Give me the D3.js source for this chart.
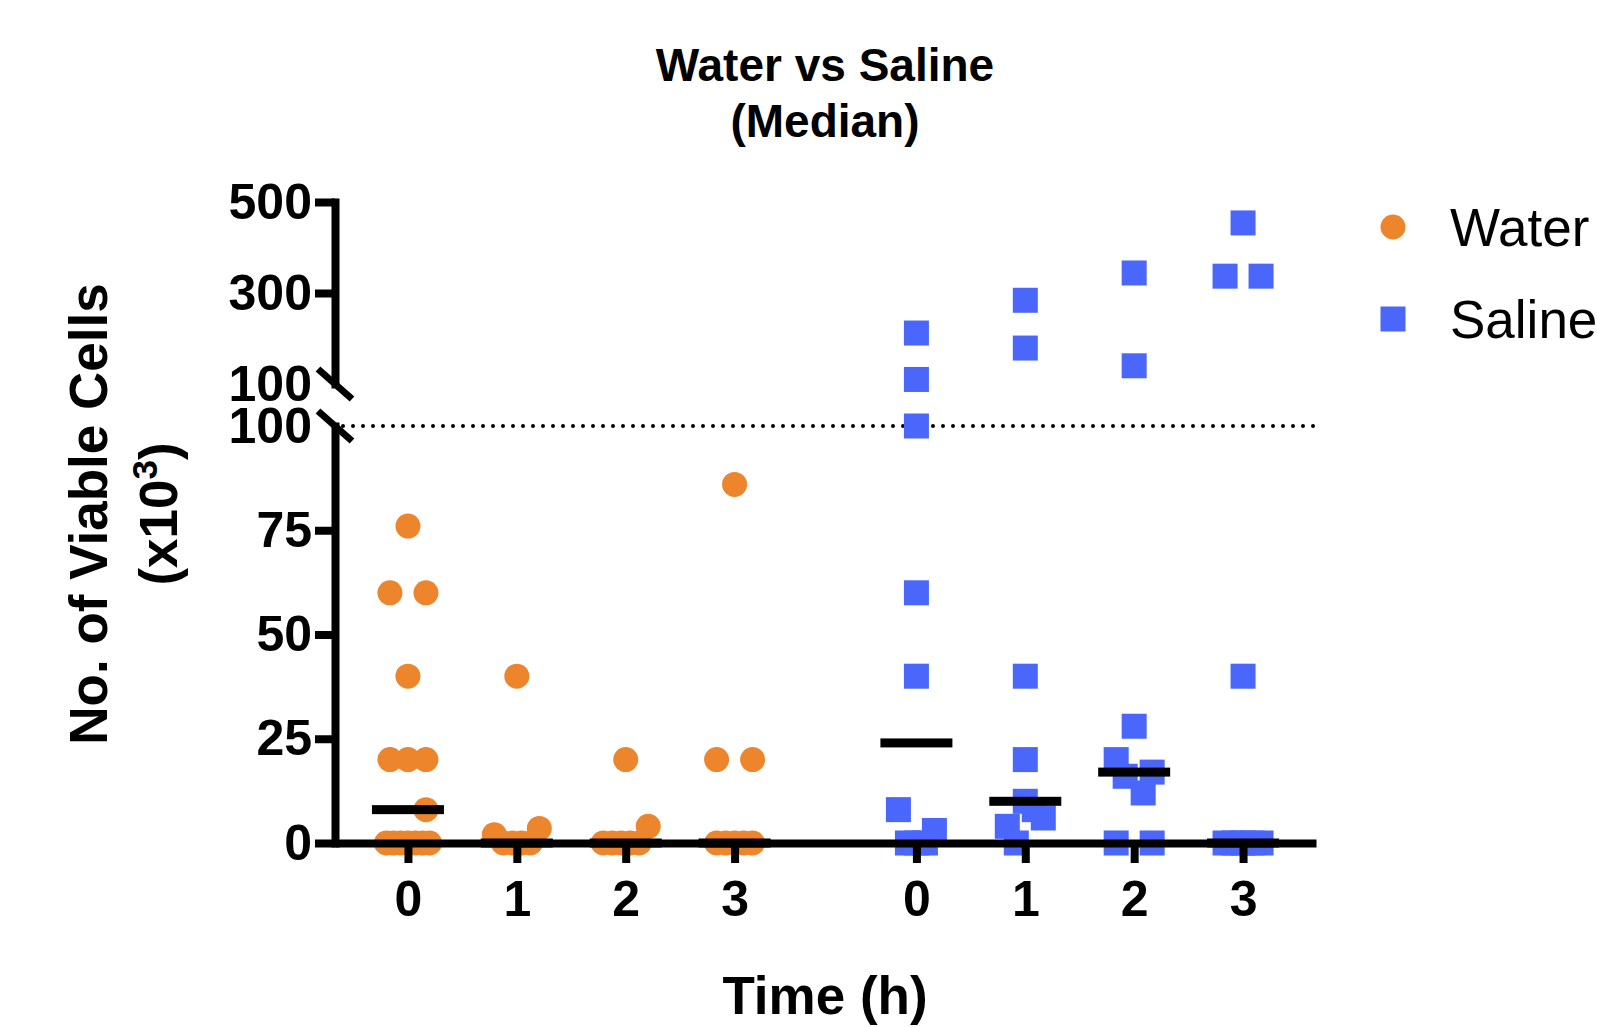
<!DOCTYPE html>
<html>
<head>
<meta charset="utf-8">
<script src="https://cdn.jsdelivr.net/npm/d3@7"></script>
<style>
  body { margin: 0; background: #fff; }
  text { font-family: "Liberation Sans", Arial, Helvetica, sans-serif; }
</style>
</head>
<body>
<div id="chart"></div>
<script>
// DATA (No. of viable cells, x10^3)
var timeLabels = ["0", "1", "2", "3"];
var groupNames = ["Water", "Saline"];

var waterValues = [
  [76, 60, 60, 40, 20, 20, 20, 8, 0, 0, 0, 0, 0, 0, 0],
  [40, 2, 3.5, 0, 0, 0, 0],
  [20, 4, 0, 0, 0, 0, 0],
  [86, 20, 20, 0, 0, 0, 0, 0]
];
// scatter slot of each point, same order as the values
var waterSlots = [
  [0, -2, 2, 0, -2, 0, 2, 2, -2.4, -1.6, -0.8, 0, 0.8, 1.6, 2.4],
  [0, -2.5, 2.5, -1.5, -0.5, 0.5, 1.5],
  [0, 2.5, -2.5, -1.5, -0.5, 0.5, 1.5],
  [0, -2, 2, -2, -1, 0, 1, 2]
];

var salineValues = [
  [212, 110, 100, 60, 40, 8, 3, 0, 0, 0],
  [284, 179, 40, 20, 10, 8, 6, 4, 0],
  [344, 140, 28, 20, 17, 16, 12, 0, 0],
  [454, 337, 337, 40, 0, 0, 0, 0, 0]
];
var salineSlots = [
  [0, 0, 0, 0, 0, -2, 2, -1, 0, 1],
  [0, 0, 0, 0, 0, 1, 2, -2, -1],
  [0, 0, 0, -2, 2, -1, 1, -2, 2],
  [0, -2, 2, 0, -2, -1, 0, 1, 2]
];

var lowTicks = [0, 25, 50, 75, 100];
var highTicks = [100, 300, 500];

var colors = { Water: "#EC852B", Saline: "#4A66FB" };

// LAYOUT
var width = 1597, height = 1027;
var plot = { left: 335, right: 1316, top: 202, breakHigh: 384, breakLow: 426, bottom: 843 };
var groupGap = 0.67;   // extra space between the two groups (in categories)
var slotPx = 9;
var markSize = 25;
var axisW = 8;

var svg = d3.select("#chart").append("svg")
  .attr("width", width)
  .attr("height", height);

//SCALES
var nCat = timeLabels.length;
var x = d3.scaleLinear()
  .domain([-0.67, 2 * nCat - 1 + groupGap + 0.67])
  .range([plot.left, plot.right]);
function catPos(g, i) { return i + g * (nCat + groupGap); }

var yLow = d3.scaleLinear().domain([0, 100]).range([plot.bottom, plot.breakLow]);
var yHigh = d3.scaleLinear().domain([100, 500]).range([plot.breakHigh, plot.top]);
function y(v) { return v <= 100 ? yLow(v) : yHigh(v); }

var points = [];
var medians = [];
[waterValues, salineValues].forEach(function(vals, g) {
  var slots = g == 0 ? waterSlots : salineSlots;
  vals.forEach(function(col, i) {
    col.forEach(function(v, j) {
      points.push({ g: g, i: i, v: v, s: slots[i][j] });
    });
    medians.push({ g: g, i: i, v: d3.median(col) });
  });
});

// dotted line at the break
svg.append("line")
  .attr("x1", plot.left + 8)
  .attr("x2", plot.right)
  .attr("y1", yLow(100))
  .attr("y2", yLow(100))
  .attr("stroke", "#000")
  .attr("stroke-width", 4)
  .attr("stroke-linecap", "round")
  .attr("stroke-dasharray", "0 10");

// POINTS
svg.selectAll(".water")
  .data(points.filter(function(d) { return d.g == 0; }))
  .enter().append("circle")
  .attr("class", "water")
  .attr("cx", function(d) { return x(catPos(d.g, d.i)) + d.s * slotPx; })
  .attr("cy", function(d) { return y(d.v); })
  .attr("r", markSize / 2)
  .attr("fill", colors.Water);

svg.selectAll(".saline")
  .data(points.filter(function(d) { return d.g == 1; }))
  .enter().append("rect")
  .attr("class", "saline")
  .attr("x", function(d) { return x(catPos(d.g, d.i)) + d.s * slotPx - markSize / 2; })
  .attr("y", function(d) { return y(d.v) - markSize / 2; })
  .attr("width", markSize)
  .attr("height", markSize)
  .attr("fill", colors.Saline);

// median bars
svg.selectAll(".median")
  .data(medians)
  .enter().append("rect")
  .attr("class", "median")
  .attr("x", function(d) { return x(catPos(d.g, d.i)) - 36; })
  .attr("y", function(d) { return y(d.v) - 4.5; })
  .attr("width", 72)
  .attr("height", 9)
  .attr("fill", "#000");

//AXES
function styleAxis(g, fontSize) {
  g.select(".domain").attr("stroke-width", axisW).attr("stroke-linecap", "square");
  g.selectAll(".tick line").attr("stroke-width", axisW);
  g.selectAll(".tick text")
    .attr("fill", "#000")
    .style("font-size", fontSize + "px")
    .style("font-weight", "bold")
    .style("font-family", "'Liberation Sans', Arial, sans-serif");
}

var gyLow = svg.append("g")
  .attr("transform", "translate(" + plot.left + ",0)")
  .call(d3.axisLeft(yLow).tickValues(lowTicks).tickSize(20).tickSizeOuter(0).tickPadding(3));
styleAxis(gyLow, 50);
gyLow.selectAll(".tick").filter(function(d) { return d == 100; }).select("line").remove();

var gyHigh = svg.append("g")
  .attr("transform", "translate(" + plot.left + ",0)")
  .call(d3.axisLeft(yHigh).tickValues(highTicks).tickSize(20).tickSizeOuter(0).tickPadding(3));
styleAxis(gyHigh, 50);
gyHigh.selectAll(".tick").filter(function(d) { return d == 100; }).select("line").remove();

var catTicks = [];
groupNames.forEach(function(n, g) {
  timeLabels.forEach(function(t, i) { catTicks.push(catPos(g, i)); });
});
var gx = svg.append("g")
  .attr("transform", "translate(0," + plot.bottom + ")")
  .call(d3.axisBottom(x).tickValues(catTicks).tickSize(20).tickSizeOuter(0).tickPadding(17)
    .tickFormat(function(d, i) { return timeLabels[i % nCat]; }));
styleAxis(gx, 50);
gx.select(".domain").attr("stroke-linecap", "butt");

// break marks
[yHigh(100), yLow(100)].forEach(function(by) {
  svg.append("line")
    .attr("x1", plot.left - 17).attr("y1", by - 15)
    .attr("x2", plot.left + 17).attr("y2", by + 15)
    .attr("stroke", "#000")
    .attr("stroke-width", 7);
});

// TITLES
var title = svg.append("text")
  .attr("text-anchor", "middle")
  .style("font-size", "46px")
  .style("font-weight", "bold");
title.append("tspan").attr("x", 825).attr("y", 81).text("Water vs Saline");
title.append("tspan").attr("x", 825).attr("y", 137).text("(Median)");

svg.append("text")
  .attr("text-anchor", "middle")
  .attr("x", 825)
  .attr("y", 1014)
  .style("font-size", "53px")
  .style("font-weight", "bold")
  .text("Time (h)");

svg.append("text")
  .attr("text-anchor", "middle")
  .attr("transform", "translate(107,514) rotate(-90)")
  .style("font-size", "53px")
  .style("font-weight", "bold")
  .text("No. of Viable Cells");

var yl2 = svg.append("text")
  .attr("text-anchor", "middle")
  .attr("transform", "translate(177,514) rotate(-90)")
  .style("font-size", "53px")
  .style("font-weight", "bold");
yl2.append("tspan").text("(x10");
yl2.append("tspan").attr("dy", -20).style("font-size", "35px").text("3");
yl2.append("tspan").attr("dy", 20).text(")");

//LEGEND
var legend = svg.append("g");
legend.append("circle")
  .attr("cx", 1393).attr("cy", 227).attr("r", markSize / 2)
  .attr("fill", colors.Water);
legend.append("rect")
  .attr("x", 1393 - markSize / 2).attr("y", 319 - markSize / 2)
  .attr("width", markSize).attr("height", markSize)
  .attr("fill", colors.Saline);
legend.selectAll(".legend")
  .data(groupNames)
  .enter().append("text")
  .attr("class", "legend")
  .attr("x", 1450)
  .attr("y", function(d, i) { return 246 + i * 92; })
  .style("font-size", "53px")
  .text(function(d) { return d; });
</script>
</body>
</html>
